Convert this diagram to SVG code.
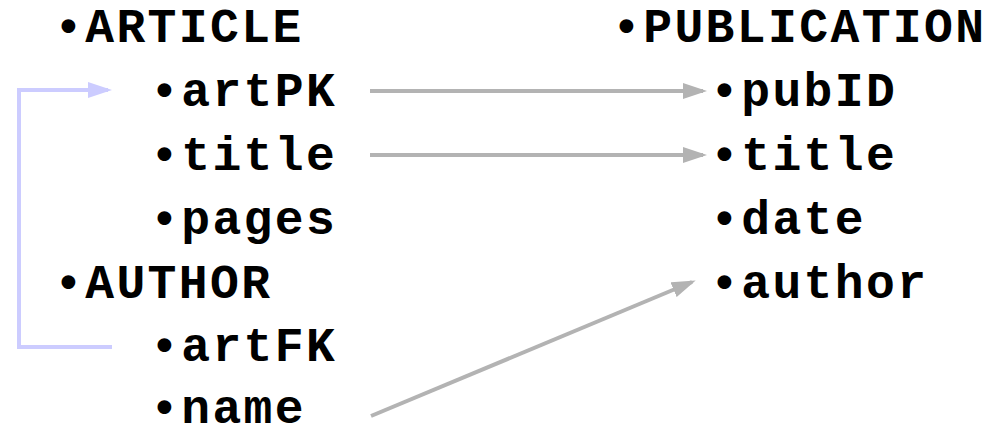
<svg xmlns="http://www.w3.org/2000/svg" width="999" height="428" viewBox="0 0 999 428">
<defs>
<marker id="ag" markerWidth="6" markerHeight="4" refX="5" refY="2" orient="auto" markerUnits="strokeWidth"><path d="M0,0 L6,2 L0,4 Z" fill="#b3b3b3"/></marker>
<marker id="ab" markerWidth="6" markerHeight="4" refX="5" refY="2" orient="auto" markerUnits="strokeWidth"><path d="M0,0 L6,2 L0,4 Z" fill="#ccccff"/></marker>
</defs>
<style>
text{font-family:"Liberation Mono","Courier New",monospace;font-weight:bold;font-size:48px;letter-spacing:2.4px;fill:#000}
.g{stroke:#b3b3b3;stroke-width:4;fill:none}
.b{stroke:#ccccff;stroke-width:4;fill:none}
</style>
<rect width="999" height="428" fill="#fff"/>
<g id="article"><text x="54" y="42">•ARTICLE</text></g>
<g id="artPK"><text x="150" y="106">•artPK</text></g>
<g id="title1"><text x="150" y="170">•title</text></g>
<g id="pages"><text x="150" y="234">•pages</text></g>
<g id="author"><text x="54" y="298">•AUTHOR</text></g>
<g id="artFK"><text x="150" y="361">•artFK</text></g>
<g id="name"><text x="150" y="423">•name</text></g>
<g id="publication"><text x="612" y="42">•PUBLICATION</text></g>
<g id="pubID"><text x="710" y="106">•pubID</text></g>
<g id="title2"><text x="710" y="170">•title</text></g>
<g id="date"><text x="710" y="234">•date</text></g>
<g id="author2"><text x="710" y="298">•author</text></g>
<g id="connectors">
<line class="g" x1="370" y1="91" x2="703" y2="91" marker-end="url(#ag)"/>
<line class="g" x1="370" y1="155" x2="703" y2="155" marker-end="url(#ag)"/>
<line class="g" x1="371" y1="416" x2="692" y2="282" marker-end="url(#ag)"/>
<polyline class="b" points="112,347 19,347 19,90 108,90" marker-end="url(#ab)"/>
</g>
</svg>
